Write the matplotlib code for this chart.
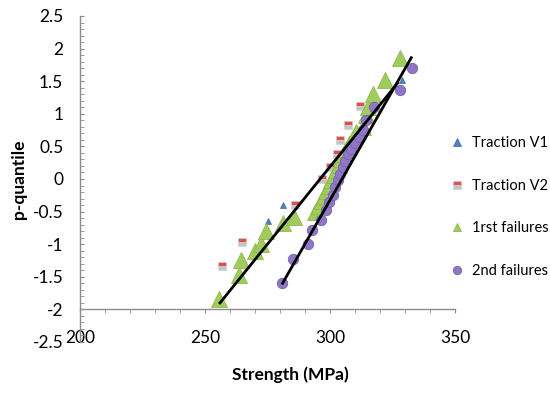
import matplotlib
matplotlib.use("Agg")
from matplotlib import pyplot as plt
from matplotlib.ticker import MultipleLocator

plt.rcParams["font.family"] = ["Lato", "DejaVu Sans"]

# Traction V1 (small blue triangles, mostly hidden behind the green ones)
v1_strength = [255.5, 263.5, 270, 275.3, 281.3, 297.5, 301.5, 305.5, 309, 315, 328.7]
v1_quantile = [-1.84, -1.47, -1.10, -0.65, -0.40, -0.26, 0.06, 0.38, 0.63, 1.10, 1.52]

# Traction V2 (small red squares)
v2_strength = [256.7, 264.7, 286, 296.7, 300, 302.7, 304, 307, 312]
v2_quantile = [-1.34, -0.96, -0.40, 0.0, 0.19, 0.39, 0.60, 0.83, 1.12]

# 1rst failures (green triangles)
first_strength = [255.5, 263.5, 264.5, 270, 272.5, 274.5, 281, 285.5, 294, 295.5,
                  296.5, 297.5, 298.5, 299.5, 300.5, 301.5, 302.5, 303.5, 304.5, 305.5,
                  306.5, 307.5, 309, 310.5, 313, 314.5, 315, 317, 322, 328]
first_quantile = [-1.84, -1.47, -1.25, -1.10, -1.00, -0.80, -0.68, -0.58, -0.50, -0.42,
                  -0.34, -0.26, -0.18, -0.10, -0.02, 0.06, 0.14, 0.22, 0.30, 0.38,
                  0.46, 0.54, 0.63, 0.72, 0.80, 0.98, 1.10, 1.30, 1.52, 1.85]

# 2nd failures (purple circles)
second_strength = [280.7, 285, 291.3, 292.7, 296.5, 298.5, 299.5, 301, 302, 303, 304,
                   305, 306, 307, 308.5, 310, 311.5, 313, 314.5, 317.5, 328, 332.7]
second_quantile = [-1.60, -1.22, -0.99, -0.78, -0.63, -0.48, -0.36, -0.24, -0.12, -0.02, 0.08,
                   0.18, 0.28, 0.38, 0.46, 0.55, 0.65, 0.75, 0.90, 1.10, 1.37, 1.70]

# trend lines (end points of each fit)
fit1_strength = [256, 327]
fit1_quantile = [-1.90, 1.47]
fit2_strength = [281, 332.5]
fit2_quantile = [-1.60, 1.86]

fig = plt.figure(figsize=(5.5, 3.93), dpi=100)
ax = fig.add_axes([0.1455, 0.1298, 0.6818, 0.8295])

ax.plot(v1_strength, v1_quantile, linestyle="none", marker="^", markersize=5,
        color="#4F81BD", markeredgecolor="#3C6AA0", markeredgewidth=0.5, label="Traction V1")
ax.plot(v2_strength, v2_quantile, linestyle="none", marker="s", markersize=6,
        fillstyle="top", markerfacecolor="#D9534F", markerfacecoloralt="#C4C4C4",
        markeredgecolor="#CFCFCF", markeredgewidth=0.4, label="Traction V2")
ax.plot(first_strength, first_quantile, linestyle="none", marker="^", markersize=11.5,
        color="#A0CC5E", markeredgecolor="#8DB84C", markeredgewidth=0.6, label="1rst failures")
ax.plot(second_strength, second_quantile, linestyle="none", marker="o", markersize=7.5,
        color="#9077C6", markeredgecolor="#7860AE", markeredgewidth=0.6, label="2nd failures")

ax.plot(fit1_strength, fit1_quantile, color="black", linewidth=2, zorder=5)
ax.plot(fit2_strength, fit2_quantile, color="black", linewidth=2, zorder=5)

ax.set_xlim(200, 350)
ax.set_ylim(-2.5, 2.5)
ax.spines["top"].set_visible(False)
ax.spines["right"].set_visible(False)
ax.spines["bottom"].set_position(("data", -2))
for s in ("left", "bottom"):
    ax.spines[s].set_color("#8C8C8C")
    ax.spines[s].set_linewidth(1)

ax.xaxis.set_major_locator(MultipleLocator(50))
ax.xaxis.set_minor_locator(MultipleLocator(10))
ax.yaxis.set_minor_locator(MultipleLocator(0.1))
ax.set_yticks([-2.5, -2, -1.5, -1, -0.5, 0, 0.5, 1, 1.5, 2, 2.5])
ax.set_yticklabels(["-2.5", "-2", "-1.5", "-1", "-0.5", "0", "0.5", "1", "1.5", "2", "2.5"])
ax.tick_params(axis="x", which="both", direction="out", length=3, color="#8C8C8C",
               labelsize=12.5, pad=12)
ax.tick_params(axis="y", which="both", direction="in", length=3, color="#8C8C8C",
               labelsize=12.5, pad=12)

ax.set_ylabel("p-quantile", fontsize=12.5, fontweight="bold", labelpad=4)
ax.set_xlabel("Strength (MPa)", fontsize=12.5, fontweight="bold")
ax.xaxis.set_label_coords(0.56, -0.075)

fig.legend(loc="center left", bbox_to_anchor=(0.805, 0.473), frameon=False,
           fontsize=10.5, labelspacing=1.95, handlelength=0.9, handletextpad=0.6,
           borderpad=0)
leg = fig.legends[0]
for h in leg.legend_handles:
    h.set_markersize(6)

fig.savefig("out.png", dpi=100)
